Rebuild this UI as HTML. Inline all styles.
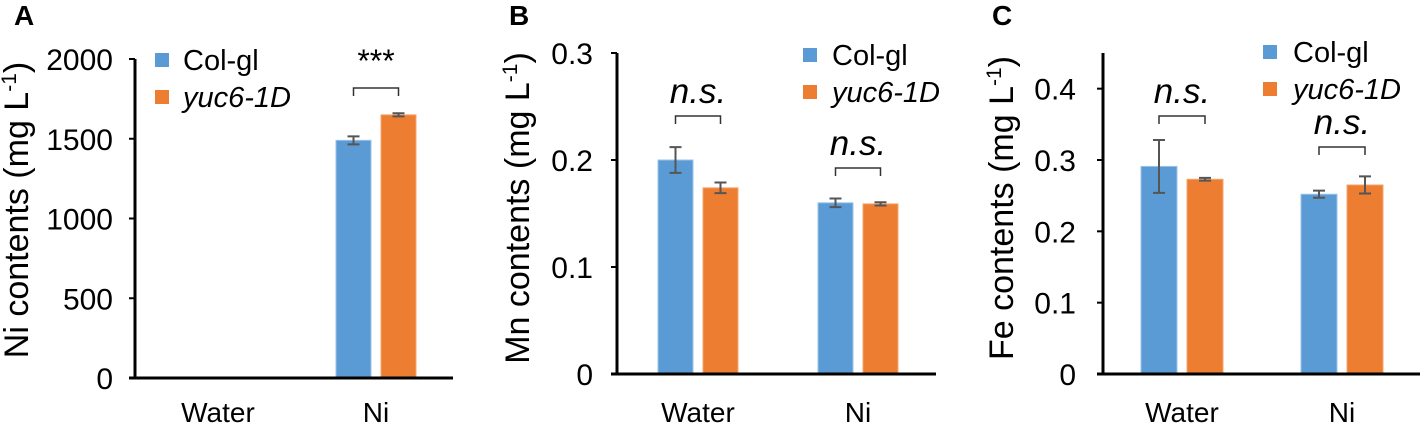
<!DOCTYPE html>
<html><head><meta charset="utf-8"><style>
body{margin:0;background:#fff}
svg{display:block;font-family:"Liberation Sans",Arial,sans-serif}
</style></head><body>
<svg id="chart" width="1420" height="424" viewBox="0 0 1420 424"></svg>
<script>
const categories = ["Water","Ni"];
const seriesNames = ["Col-gl","yuc6-1D"];
const niValues = [[0,1490],[0,1650]];
const niErrors = [[0,25],[0,10]];
const mnValues = [[0.200,0.160],[0.174,0.159]];
const mnErrors = [[0.012,0.004],[0.005,0.0015]];
const feValues = [[0.291,0.252],[0.273,0.265]];
const feErrors = [[0.037,0.005],[0.002,0.012]];
const niTicks = [0,500,1000,1500,2000];
const mnTicks = ["0","0.1","0.2","0.3"];
const feTicks = ["0","0.1","0.2","0.3","0.4"];
const niSig = ["","***"];
const mnSig = ["n.s.","n.s."];
const feSig = ["n.s.","n.s."];
const colors = ["#5B9BD5","#ED7D31"];

const svg = document.getElementById('chart');
const NS = "http://www.w3.org/2000/svg";
function el(tag, attrs, parent){const e=document.createElementNS(NS,tag);for(const k in attrs)e.setAttribute(k,attrs[k]);(parent||svg).appendChild(e);return e;}

const panels = [
 {id:"a",letter:"A",lx:14,ax:135,x1:453,y0:378,ytop:59,max:2000,ticks:niTicks,tickR:113,
  vals:niValues,errs:niErrors,sig:niSig,sigBase:[0,72],brY:[0,88],sigItalic:false,
  grpC:[218,376],bw:35,gap:10,title:"Ni contents (mg L",tx:28,tcy:210,
  leg:{x:155,y:[53,90],tx:183}},
 {id:"b",letter:"B",lx:509,ax:617,x1:936,y0:374,ytop:53,max:0.3,ticks:mnTicks,tickR:593,
  vals:mnValues,errs:mnErrors,sig:mnSig,sigBase:[103,155],brY:[116,168],sigItalic:true,
  grpC:[698,858],bw:35,gap:10,title:"Mn contents (mg L",tx:529,tcy:208,
  leg:{x:803,y:[48,85],tx:832}},
 {id:"c",letter:"C",lx:992,ax:1103,x1:1420,y0:374,ytop:53,max:0.45,ticks:feTicks,tickR:1076,
  vals:feValues,errs:feErrors,sig:feSig,sigBase:[103,134],brY:[116,147],sigItalic:true,
  grpC:[1182,1342],bw:36,gap:10,title:"Fe contents (mg L",tx:1013,tcy:208,
  leg:{x:1263,y:[45,82],tx:1293}}
];

panels.forEach(p=>{
  const g = el('g',{});
  
  
  const yS = v => p.y0 - (v/p.max)*(p.y0-p.ytop);
  const L = el('text',{x:p.lx,y:25,'font-size':28,'font-weight':'bold',fill:'#000'},g);
  L.textContent=p.letter;
  
  
  const t = el('text',{x:0,y:0,'font-size':34,fill:'#000','text-anchor':'middle',transform:`translate(${p.tx},${p.tcy}) rotate(-90)`},g);
  
  
  t.textContent=p.title;
  const sup = el('tspan',{dy:-12,'font-size':21},t); sup.textContent="-1";
  const cl = el('tspan',{dy:12},t); cl.textContent=")";
  categories.forEach((c,ci)=>{
    seriesNames.forEach((s,si)=>{
      const v=p.vals[si][ci], e=p.errs[si][ci];
      const x = p.grpC[ci] - p.gap/2 - p.bw + si*(p.bw+p.gap);
      if(v>0){
        const r=el('rect',{x:x,y:yS(v),width:p.bw,height:p.y0-yS(v),fill:colors[si],stroke:si?'#F4A672':'#9CC3E8','stroke-width':1},g);
        
        
        const cx=x+p.bw/2, yt=yS(v+e), yb=yS(v-e);
        const eb=el('path',{d:`M${cx},${yt}V${yb}M${cx-6},${yt}H${cx+6}M${cx-6},${yb}H${cx+6}`,stroke:'#555','stroke-width':2,fill:'none'},g);
        
        
      }
    });
    const cat=el('text',{x:p.grpC[ci],y:422,'font-size':28,'text-anchor':'middle',fill:'#000'},g);
    cat.textContent=c;
    
    
    if(p.sig[ci]){
      const bx0=p.grpC[ci]-p.gap/2-p.bw/2, bx1=p.grpC[ci]+p.gap/2+p.bw/2, by=p.brY[ci];
      const br=el('path',{d:`M${bx0},${by+8}V${by}H${bx1}V${by+8}`,stroke:'#333','stroke-width':1.5,fill:'none'},g);
      
      
      const st=el('text',{x:(bx0+bx1)/2,y:p.sigBase[ci],'font-size':p.sigItalic?35:32,'font-style':p.sigItalic?'italic':'normal','text-anchor':'middle',fill:'#000'},g);
      st.textContent=p.sig[ci];
      
      
    }
  });
  const ya=el('line',{x1:p.ax,y1:p.ytop,x2:p.ax,y2:p.y0+1.5,stroke:'#000','stroke-width':3},g);
   
  const xa=el('line',{x1:p.ax-6,y1:p.y0,x2:p.x1,y2:p.y0,stroke:'#000','stroke-width':3},g);
   
  p.ticks.forEach(tk=>{
    const yy=yS(parseFloat(tk));
    el('line',{x1:p.ax-6,y1:yy,x2:p.ax,y2:yy,stroke:'#000','stroke-width':2},g);
    const tl=el('text',{x:p.tickR,y:yy+11,'font-size':30,'text-anchor':'end',fill:'#000'},g);
    tl.textContent=tk;
    
    
  });
  seriesNames.forEach((s,si)=>{
    const sq=el('rect',{x:p.leg.x,y:p.leg.y[si],width:14,height:14,fill:colors[si]},g);
    
    
    const lt=el('text',{x:p.leg.tx,y:p.leg.y[si]+17,'font-size':29,'font-style':si?'italic':'normal',fill:'#000'},g);
    lt.textContent=s;
    
    
  });
});
</script>
</body></html>
